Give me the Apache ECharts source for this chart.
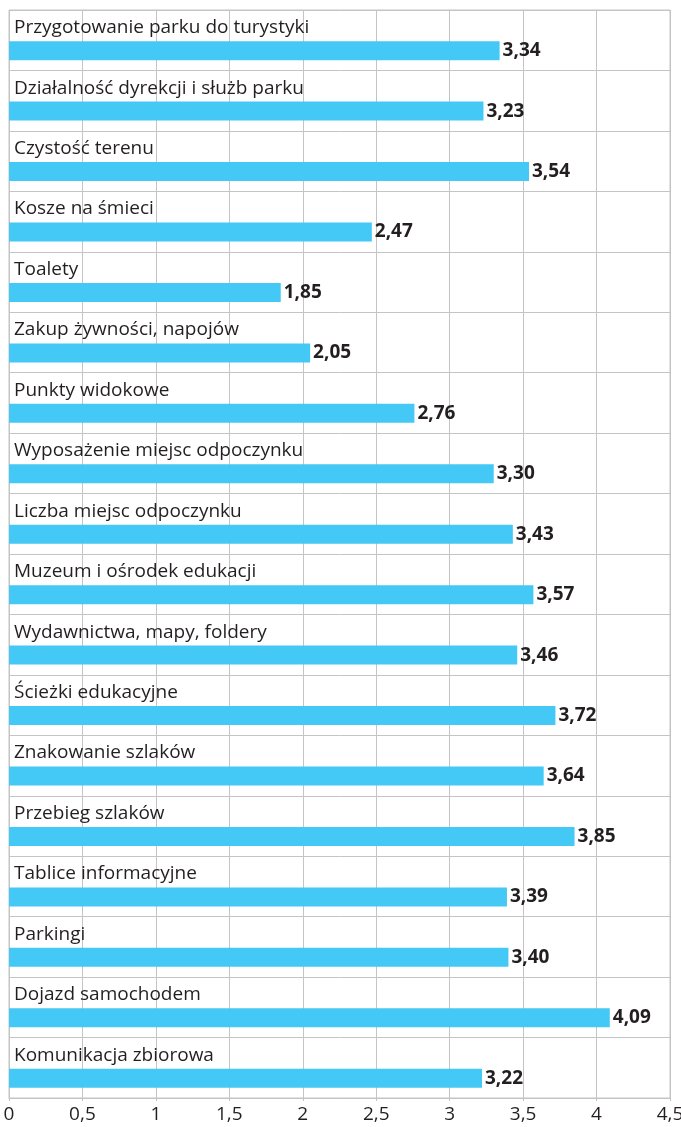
<!DOCTYPE html>
<html>
<head>
<meta charset="utf-8">
<script src="https://cdn.jsdelivr.net/npm/echarts@6/dist/echarts.min.js"></script>
<style>
  html, body { margin: 0; padding: 0; background: #fff; }
  #chart { width: 681px; height: 1127px; }
</style>
</head>
<body>
<div id="chart"></div>
<script>
// kategorie oceniane przez turystów
var categories = [
  "Przygotowanie parku do turystyki",
  "Działalność dyrekcji i służb parku",
  "Czystość terenu",
  "Kosze na śmieci",
  "Toalety",
  "Zakup żywności, napojów",
  "Punkty widokowe",
  "Wyposażenie miejsc odpoczynku",
  "Liczba miejsc odpoczynku",
  "Muzeum i ośrodek edukacji",
  "Wydawnictwa, mapy, foldery",
  "Ścieżki edukacyjne",
  "Znakowanie szlaków",
  "Przebieg szlaków",
  "Tablice informacyjne",
  "Parkingi",
  "Dojazd samochodem",
  "Komunikacja zbiorowa"
];
var scores = [3.34, 3.23, 3.54, 2.47, 1.85, 2.05, 2.76, 3.30, 3.43, 3.57, 3.46, 3.72, 3.64, 3.85, 3.39, 3.40, 4.09, 3.22];

var font = "'Open Sans', sans-serif";
var textColor = "#231f20";
var gridColor = "#c4c4c4";

function plNum(v) {
  return String(v).replace(".", ",");
}

var chart = echarts.init(document.getElementById("chart"));
chart.setOption({
  animation: false,
  textStyle: { fontFamily: font },
  grid: {
    left: 9,
    right: 11,
    top: 10,
    bottom: 29,
    outerBoundsMode: "none",
    show: true,
    borderColor: gridColor,
    borderWidth: 1
  },
  xAxis: {
    type: "value",
    min: 0,
    max: 4.5,
    interval: 0.5,
    axisLine: { show: true, lineStyle: { color: gridColor } },
    axisTick: { show: true, length: 3, lineStyle: { color: gridColor } },
    splitLine: { lineStyle: { color: gridColor, width: 1 } },
    axisLabel: {
      color: textColor,
      fontSize: 19,
      fontFamily: font,
      margin: 7,
      formatter: function (v) { return plNum(v); }
    }
  },
  yAxis: {
    type: "category",
    inverse: true,
    data: categories,
    axisLine: { show: false },
    axisTick: { show: false },
    splitLine: { show: true, lineStyle: { color: gridColor, width: 1 } },
    axisLabel: {
      inside: true,
      margin: 5,
      color: textColor,
      fontSize: 19,
      fontFamily: font,
      verticalAlign: "bottom",
      padding: [0, 0, 3, 0]
    }
  },
  series: [
    {
      // pusty slot, żeby słupek był przesunięty w dół pod nazwą
      type: "bar",
      barWidth: 19,
      barGap: "10%",
      data: categories.map(function () { return "-"; }),
      silent: true
    },
    {
      type: "bar",
      barWidth: 19,
      barGap: "10%",
      data: scores,
      itemStyle: { color: "#44c8f5" },
      label: {
        show: true,
        position: "right",
        distance: 3,
        color: textColor,
        fontSize: 19,
        fontWeight: "bold",
        fontFamily: font,
        formatter: function (p) { return p.value.toFixed(2).replace(".", ","); }
      }
    }
  ]
});
</script>
</body>
</html>
